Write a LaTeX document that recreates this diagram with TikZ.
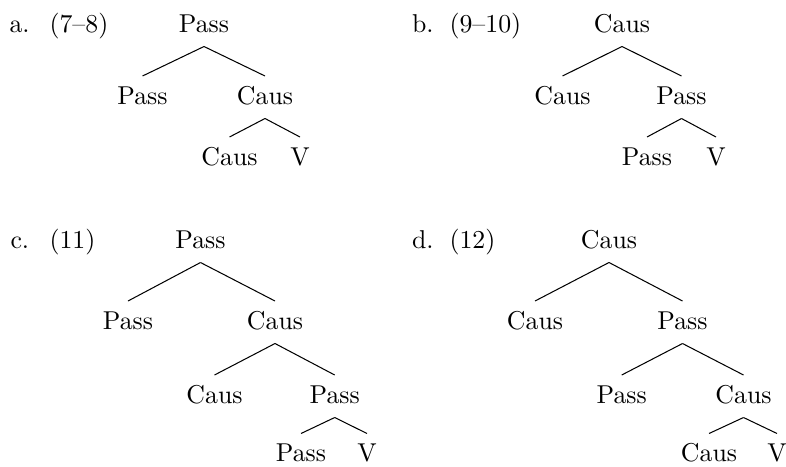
\documentclass[tikz,border=0pt]{standalone}
\usetikzlibrary{calc}
\tikzset{
  lbl/.style={inner sep=0pt, anchor=base},
  tag/.style={inner sep=0pt, anchor=base west},
  branch/.style={line width=0.4pt}
}
\newcommand\treeedge[2]{\draw[branch] ($(#1.base)+(0,14.5)$) -- ($(#2.base)+(0,-28)$);}
\begin{document}
\begin{tikzpicture}[x=0.3875pt,y=-0.3875pt]
\useasboundingbox (0,0) rectangle (786,466);
% a
\node[tag] (ta) at (9,32) {a.};
\node[tag] (na) at (49,32) {(7--8)};
\node[lbl] (a0) at (204,32) {Pass};
\node[lbl] (a1) at (142.5,104) {Pass};
\node[lbl] (a2) at (265,104) {Caus};
\node[lbl] (a3) at (229.5,165) {Caus};
\node[lbl] (a4) at (300,165) {V};
\treeedge{a0}{a1}\treeedge{a0}{a2}\treeedge{a2}{a3}\treeedge{a2}{a4}
% b
\node[tag] (tb) at (411.5,32) {b.};
\node[tag] (nb) at (449,32) {(9--10)};
\node[lbl] (b0) at (622,32) {Caus};
\node[lbl] (b1) at (562.5,104) {Caus};
\node[lbl] (b2) at (681.5,104) {Pass};
\node[lbl] (b3) at (647,165) {Pass};
\node[lbl] (b4) at (716,165) {V};
\treeedge{b0}{b1}\treeedge{b0}{b2}\treeedge{b2}{b3}\treeedge{b2}{b4}
% c
\node[tag] (tc) at (10,248) {c.};
\node[tag] (nc) at (49,248) {(11)};
\node[lbl] (c0) at (200.5,248) {Pass};
\node[lbl] (c1) at (128,329) {Pass};
\node[lbl] (c2) at (275,329) {Caus};
\node[lbl] (c3) at (214.5,403) {Caus};
\node[lbl] (c4) at (334.7,403) {Pass};
\node[lbl] (c5) at (301,461.5) {Pass};
\node[lbl] (c6) at (367,461.5) {V};
\treeedge{c0}{c1}\treeedge{c0}{c2}\treeedge{c2}{c3}\treeedge{c2}{c4}\treeedge{c4}{c5}\treeedge{c4}{c6}
% d
\node[tag] (td) at (411.5,248) {d.};
\node[tag] (nd) at (449,248) {(12)};
\node[lbl] (d0) at (609,248) {Caus};
\node[lbl] (d1) at (535,329) {Caus};
\node[lbl] (d2) at (682.5,329) {Pass};
\node[lbl] (d3) at (621.7,403) {Pass};
\node[lbl] (d4) at (743.5,403) {Caus};
\node[lbl] (d5) at (709,461.5) {Caus};
\node[lbl] (d6) at (777,461.5) {V};
\treeedge{d0}{d1}\treeedge{d0}{d2}\treeedge{d2}{d3}\treeedge{d2}{d4}\treeedge{d4}{d5}\treeedge{d4}{d6}
\end{tikzpicture}
\end{document}
